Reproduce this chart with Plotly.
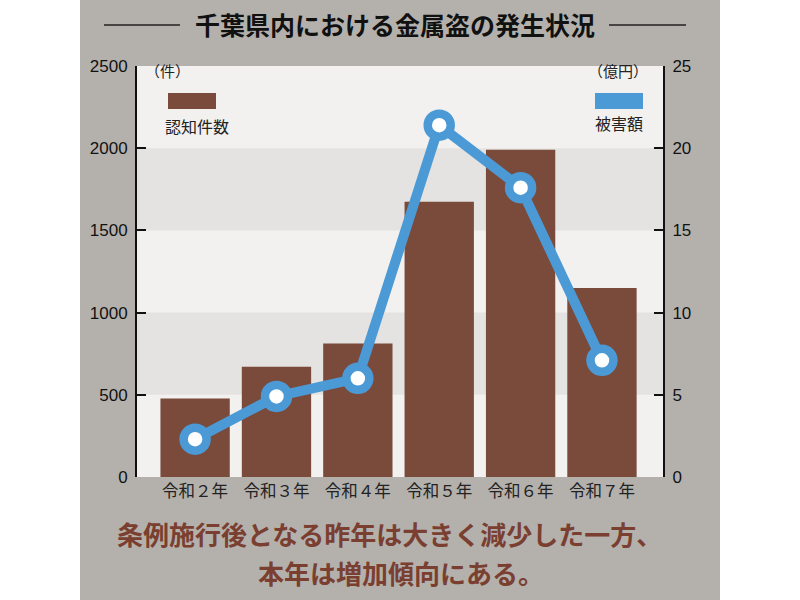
import plotly.graph_objects as go

# データ
categories = ["令和２年", "令和３年", "令和４年", "令和５年", "令和６年", "令和７年"]
cases = [478, 671, 812, 1675, 1990, 1150]       # 認知件数（件）
damage = [2.3, 4.9, 6.0, 21.4, 17.6, 7.1]       # 被害額（億円）
left_ticks = [0, 500, 1000, 1500, 2000, 2500]
right_ticks = [0, 5, 10, 15, 20, 25]

BROWN = "#7A4A3B"
BLUE = "#4B9AD6"
BG = "#B4B1AD"
NUM_FONT = "Liberation Sans, Arial, Noto Sans CJK JP"
JP_FONT = "Noto Sans CJK JP, sans-serif"

fig = go.Figure()

fig.add_trace(go.Bar(
    x=categories, y=cases, marker=dict(color=BROWN, line=dict(width=0)),
    name="認知件数", hoverinfo="skip",
))
fig.add_trace(go.Scatter(
    x=categories, y=damage, yaxis="y2", mode="lines+markers",
    line=dict(color=BLUE, width=10),
    marker=dict(size=23, color="white", line=dict(color=BLUE, width=8.5)),
    name="被害額", hoverinfo="skip",
))

# 左右の白い余白（紙の背景はグレー）
shapes = [
    dict(type="rect", xref="paper", yref="paper", x0=0, x1=0.1, y0=0, y1=1,
         fillcolor="white", line=dict(width=0), layer="below"),
    dict(type="rect", xref="paper", yref="paper", x0=0.9, x1=1, y0=0, y1=1,
         fillcolor="white", line=dict(width=0), layer="below"),
]
# 背景の帯（2000-1500, 1000-500）
for lo, hi in [(500, 1000), (1500, 2000)]:
    shapes.append(dict(type="rect", xref="x domain", yref="y", x0=0, x1=1, y0=lo, y1=hi,
                       fillcolor="#E4E3E1", line=dict(width=0), layer="below"))
# タイトル横の線
for x0, x1 in [(104, 180), (609, 686)]:
    shapes.append(dict(type="line", xref="paper", yref="paper", x0=x0 / 800, x1=x1 / 800,
                       y0=1 - 25 / 600, y1=1 - 25 / 600, line=dict(color="#222", width=1.5)))
# 凡例の色見本
for x0, x1, c in [(168, 216, BROWN), (595, 643, BLUE)]:
    shapes.append(dict(type="rect", xref="paper", yref="paper", x0=x0 / 800, x1=x1 / 800,
                       y0=1 - 109 / 600, y1=1 - 93 / 600, fillcolor=c, line=dict(width=0)))


def note(text, x, y, size, color="#222"):
    return dict(text=text, xref="paper", yref="paper", x=x / 800, y=1 - y / 600,
                xanchor="center", yanchor="middle", showarrow=False,
                font=dict(family=JP_FONT, size=size, color=color))


annotations = [
    note("<b>千葉県内における金属盗の発生状況</b>", 395, 24, 25, "#111"),
    note("（件）", 167, 70, 15),
    note("（億円）", 618, 70, 15),
    note("認知件数", 197, 126, 16),
    note("被害額", 619, 123, 16),
    note("<b>条例施行後となる昨年は大きく減少した一方、</b>", 389, 533, 26, "#7A3F30"),
    note("<b>本年は増加傾向にある。</b>", 401, 572, 26, "#7A3F30"),
]

fig.update_layout(
    width=800, height=600,
    margin=dict(l=0, r=0, t=0, b=0, autoexpand=False),
    paper_bgcolor=BG, plot_bgcolor="#F2F1EF",
    showlegend=False, bargap=0.148,
    shapes=shapes, annotations=annotations,
    xaxis=dict(domain=[137 / 800, 663 / 800], range=[-0.714, 5.75], showgrid=False,
               showline=False, ticks="", automargin=False, ticklabelstandoff=2,
               tickfont=dict(family=JP_FONT, size=16.5, color="#222")),
    yaxis=dict(domain=[1 - 477 / 600, 1 - 66 / 600], range=[0, 2500], tickvals=left_ticks,
               showgrid=False, zeroline=False, showline=True, linecolor="#111", linewidth=2,
               ticks="inside", ticklen=9, tickwidth=2, tickcolor="#111", automargin=False,
               tickfont=dict(family=NUM_FONT, size=17, color="#111"), ticklabelstandoff=4),
    yaxis2=dict(overlaying="y", side="right", range=[0, 25], tickvals=right_ticks,
                showgrid=False, zeroline=False, showline=True, linecolor="#111", linewidth=2,
                ticks="inside", ticklen=9, tickwidth=2, tickcolor="#111", automargin=False,
                tickfont=dict(family=NUM_FONT, size=17, color="#111"), ticklabelstandoff=4),
)

fig.write_html("out.html", config={"displayModeBar": False},
               post_script="document.body.style.margin='0';")
